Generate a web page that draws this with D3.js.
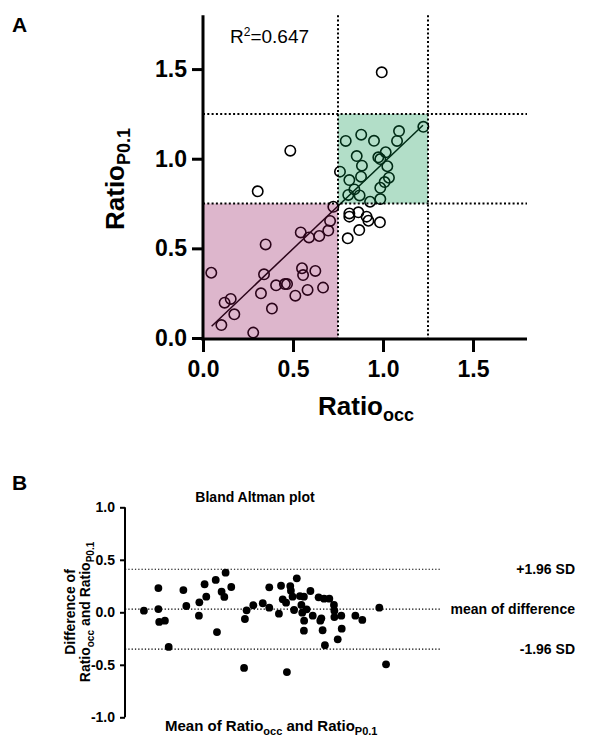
<!DOCTYPE html>
<html>
<head>
<meta charset="utf-8">
<script src="https://cdn.jsdelivr.net/npm/d3@7"></script>
<style>
  body { margin: 0; background: #fff; }
  svg { font-family: "Liberation Sans", Arial, sans-serif; }
</style>
</head>
<body>
<script>
// panel A: Ratio_occ vs Ratio_P0.1
var ratioOcc = [0.046, 0.102, 0.12, 0.154, 0.174, 0.279, 0.322, 0.339, 0.348, 0.383,
  0.406, 0.455, 0.467, 0.513, 0.543, 0.55, 0.556, 0.581, 0.589, 0.624,
  0.646, 0.667, 0.696, 0.706, 0.724, 0.304, 0.485, 0.993,
  0.804, 0.868, 0.813, 0.813, 0.863, 0.909, 0.919, 0.983,
  0.807, 0.870, 0.928, 0.985,
  0.761, 0.841, 0.985, 0.878, 1.033, 0.813, 1.009, 0.883, 1.024, 0.854,
  1.015, 0.974, 0.985, 0.793, 0.950, 1.078, 0.879, 1.089, 1.224];
var ratioP01 = [0.364, 0.072, 0.197, 0.218, 0.132, 0.030, 0.249, 0.355, 0.522, 0.164,
  0.294, 0.301, 0.301, 0.236, 0.589, 0.389, 0.351, 0.268, 0.561, 0.374,
  0.569, 0.281, 0.599, 0.653, 0.732, 0.818, 1.045, 1.482,
  0.556, 0.602, 0.695, 0.677, 0.701, 0.677, 0.654, 0.645,
  0.798, 0.795, 0.760, 0.775,
  0.928, 0.829, 0.838, 0.900, 0.894, 0.881, 0.870, 0.961, 0.958, 1.015,
  1.036, 1.008, 0.998, 1.099, 1.100, 1.099, 1.134, 1.154, 1.178];
var fitSlope = 0.955, fitIntercept = 0.02, fitRange = [0.048, 1.222];
var rSquared = "0.647";
var cutLow = 0.75, cutHigh = 1.25;
var ticksA = [0, 0.5, 1.0, 1.5];

// panel B: Bland Altman (mean, difference)
var baMean = [0.090, 0.159, 0.159, 0.163, 0.190, 0.208, 0.278, 0.292, 0.352, 0.354,
  0.379, 0.387, 0.432, 0.438, 0.460, 0.473, 0.479, 0.506, 0.567, 0.571,
  0.579, 0.611, 0.656, 0.687, 0.687, 0.733, 0.743, 0.751, 0.767, 0.771,
  0.787, 0.790, 0.798, 0.805, 0.818, 0.833, 0.840, 0.844, 0.852, 0.853,
  0.852, 0.865, 0.883, 0.894, 0.922, 0.930, 0.935, 0.941, 0.948, 0.952,
  0.973, 0.995, 0.997, 0.997, 1.013, 1.030, 1.032, 1.097, 1.130, 1.211, 1.243];
var baDiff = [0.015, 0.231, 0.031, -0.092, -0.080, -0.330, 0.212, 0.060, -0.032, 0.095,
  0.267, 0.149, 0.308, -0.188, 0.196, 0.146, 0.377, 0.241, -0.530, -0.064,
  0.019, 0.067, 0.086, 0.238, 0.044, -0.013, 0.253, 0.124, 0.092, -0.569,
  0.250, 0.206, 0.149, 0.022, 0.324, 0.155, 0.070, -0.004, 0.149, -0.080,
  -0.175, 0.028, 0.203, -0.032, 0.143, -0.080, -0.057, -0.171, 0.130, -0.314,
  0.130, 0.070, 0.015, -0.045, -0.257, -0.032, -0.156, -0.032, -0.073, 0.044, -0.495];
var meanDiff = 0.03, upperLoA = 0.41, lowerLoA = -0.35;
var ticksB = [1.0, 0.5, 0.0, -0.5, -1.0];

var fmt = function(d) { return d3.format(".1f")(d).replace("\u2212", "-"); };

var svg = d3.select("body").append("svg")
  .attr("width", 589).attr("height", 742);

// ---------- panel A ----------
var x = d3.scaleLinear().domain([0, 1.8]).range([203, 527]);
var y = d3.scaleLinear().domain([0, 1.8]).range([338, 15.3]);

var gA = svg.append("g");

gA.selectAll("circle.pt")
  .data(ratioOcc.map(function(d, i) { return [d, ratioP01[i]]; }))
  .enter().append("circle")
  .attr("class", "pt")
  .attr("cx", function(d) { return x(d[0]); })
  .attr("cy", function(d) { return y(d[1]); })
  .attr("r", 5.2)
  .attr("fill", "none")
  .attr("stroke", "#000")
  .attr("stroke-width", 1.6);

gA.append("line")
  .attr("x1", x(fitRange[0])).attr("y1", y(fitIntercept + fitSlope * fitRange[0]))
  .attr("x2", x(fitRange[1])).attr("y2", y(fitIntercept + fitSlope * fitRange[1]))
  .attr("stroke", "#000").attr("stroke-width", 1.5);

// shaded agreement zones, drawn over the points like a tinted overlay
gA.append("rect")
  .attr("x", x(0)).attr("y", y(cutLow))
  .attr("width", x(cutLow) - x(0)).attr("height", y(0) - y(cutLow))
  .attr("fill", "rgb(142,12,85)").attr("fill-opacity", 0.3);
gA.append("rect")
  .attr("x", x(cutLow)).attr("y", y(cutHigh))
  .attr("width", x(cutHigh) - x(cutLow)).attr("height", y(cutLow) - y(cutHigh))
  .attr("fill", "rgb(0,145,72)").attr("fill-opacity", 0.3);

[cutLow, cutHigh].forEach(function(c) {
  gA.append("line")
    .attr("x1", x(c)).attr("x2", x(c)).attr("y1", y(1.8)).attr("y2", y(0))
    .attr("stroke", "#000").attr("stroke-width", 2).attr("stroke-dasharray", "2,2.3");
  gA.append("line")
    .attr("x1", x(0)).attr("x2", x(1.8)).attr("y1", y(c)).attr("y2", y(c))
    .attr("stroke", "#000").attr("stroke-width", 2).attr("stroke-dasharray", "2,2.3");
});

var xAxisA = gA.append("g")
  .attr("transform", "translate(0," + 339 + ")")
  .call(d3.axisBottom(x).tickValues(ticksA).tickFormat(fmt).tickSize(13).tickPadding(9));
var yAxisA = gA.append("g")
  .attr("transform", "translate(" + 203 + ",0)")
  .call(d3.axisLeft(y).tickValues(ticksA).tickFormat(fmt).tickSize(11).tickPadding(5));
[xAxisA, yAxisA].forEach(function(a) {
  a.select(".domain").attr("stroke-width", 3);
  a.selectAll(".tick line").attr("stroke-width", 3);
  a.selectAll(".tick text").attr("font-size", 23).attr("font-weight", "bold")
    .attr("font-family", "Liberation Sans, Arial, sans-serif").attr("fill", "#000");
});
xAxisA.select(".domain").attr("d", "M201.5,0H527");
yAxisA.select(".domain").attr("d", "M0," + y(1.8) + "V" + (y(0) + 2.5));

var r2 = gA.append("text").attr("x", 230).attr("y", 43).attr("font-size", 19);
r2.append("tspan").text("R");
r2.append("tspan").attr("font-size", 12).attr("dy", -7).text("2");
r2.append("tspan").attr("dy", 7).text("=" + rSquared);

var xl = gA.append("text").attr("x", 366).attr("y", 415)
  .attr("text-anchor", "middle").attr("font-size", 26).attr("font-weight", "bold");
xl.append("tspan").text("Ratio");
xl.append("tspan").attr("font-size", 18).attr("dy", 6).text("occ");

var yl = gA.append("text").attr("transform", "translate(124,179) rotate(-90)")
  .attr("text-anchor", "middle").attr("font-size", 26).attr("font-weight", "bold");
yl.append("tspan").text("Ratio");
yl.append("tspan").attr("font-size", 18).attr("dy", 6).text("P0.1");

svg.append("text").attr("x", 12).attr("y", 32)
  .attr("font-size", 21).attr("font-weight", "bold").text("A");

// ---------- panel B ----------
var bx = d3.scaleLinear().domain([0, 1.5]).range([125, 440]);
var by = d3.scaleLinear().domain([-1, 1]).range([717.3, 507.3]);
var gB = svg.append("g");

svg.append("text").attr("x", 12).attr("y", 490)
  .attr("font-size", 21).attr("font-weight", "bold").text("B");

gB.append("text").attr("x", 255).attr("y", 502).attr("text-anchor", "middle")
  .attr("font-size", 14).attr("font-weight", "bold").text("Bland Altman plot");

[upperLoA, meanDiff, lowerLoA].forEach(function(v) {
  gB.append("line")
    .attr("x1", bx(0)).attr("x2", bx(1.5)).attr("y1", by(v)).attr("y2", by(v))
    .attr("stroke", "#000").attr("stroke-width", 1.2).attr("stroke-dasharray", "1.3,2");
});

gB.selectAll("circle.ba")
  .data(baMean.map(function(d, i) { return [d, baDiff[i]]; }))
  .enter().append("circle")
  .attr("class", "ba")
  .attr("cx", function(d) { return bx(d[0]); })
  .attr("cy", function(d) { return by(d[1]); })
  .attr("r", 3.9)
  .attr("fill", "#000");

var yAxisB = gB.append("g")
  .attr("transform", "translate(" + 125 + ",0)")
  .call(d3.axisLeft(by).tickValues(ticksB).tickFormat(fmt).tickSize(5).tickPadding(5));
yAxisB.select(".domain").attr("stroke-width", 2).attr("d", "M0," + by(1) + "V" + by(-1));
yAxisB.selectAll(".tick line").attr("stroke-width", 2);
yAxisB.selectAll(".tick text").attr("font-size", 14).attr("font-weight", "bold")
  .attr("font-family", "Liberation Sans, Arial, sans-serif").attr("fill", "#000");

var sdLabels = [["+1.96 SD", upperLoA, 5], ["mean of difference", meanDiff, 5], ["-1.96 SD", lowerLoA, 5]];
gB.selectAll("text.sd").data(sdLabels).enter().append("text")
  .attr("class", "sd")
  .attr("x", 575)
  .attr("y", function(d) { return by(d[1]) + d[2]; })
  .attr("text-anchor", "end").attr("font-size", 14).attr("font-weight", "bold")
  .text(function(d) { return d[0]; });

var bxl = gB.append("text").attr("x", 165).attr("y", 731)
  .attr("font-size", 15).attr("font-weight", "bold");
bxl.append("tspan").text("Mean of Ratio");
bxl.append("tspan").attr("font-size", 11).attr("dy", 4).text("occ");
bxl.append("tspan").attr("dy", -4).text(" and Ratio");
bxl.append("tspan").attr("font-size", 11).attr("dy", 4).text("P0.1");

var byl1 = gB.append("text").attr("transform", "translate(75,612) rotate(-90)")
  .attr("text-anchor", "middle").attr("font-size", 14).attr("font-weight", "bold")
  .text("Difference of");
var byl2 = gB.append("text").attr("transform", "translate(90,612) rotate(-90)")
  .attr("text-anchor", "middle").attr("font-size", 14).attr("font-weight", "bold");
byl2.append("tspan").text("Ratio");
byl2.append("tspan").attr("font-size", 10).attr("dy", 4).text("occ");
byl2.append("tspan").attr("dy", -4).text(" and Ratio");
byl2.append("tspan").attr("font-size", 10).attr("dy", 4).text("P0.1");
</script>
</body>
</html>
